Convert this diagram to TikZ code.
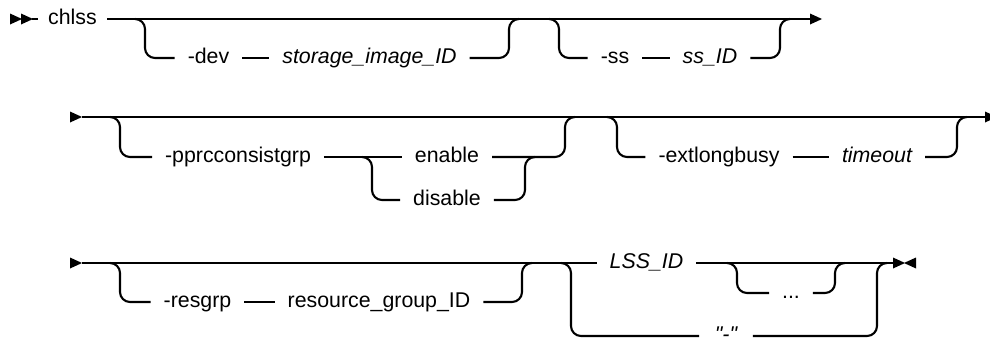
\documentclass[tikz,border=0pt]{standalone}
\usepackage{fontspec}
\setmainfont{Liberation Sans}
\newfontfamily\plainsans{Liberation Sans}[Ligatures=TeXOff]
\tikzset{
  x=0.75pt, y=-0.75pt,
  lbl/.style={font=\fontsize{16pt}{19pt}\selectfont, inner xsep=9pt, inner ysep=0pt,
              text height=12pt, text depth=4pt},
  lbli/.style={lbl, font=\fontsize{16pt}{19pt}\selectfont\itshape},
  rc/.style={rounded corners=7.5pt},
  rtri/.pic={\fill (0,-5.5) -- (12,0) -- (0,5.5) -- cycle;},
  ltri/.pic={\fill (0,-5.5) -- (-12,0) -- (0,5.5) -- cycle;},
}
\begin{document}
\begin{tikzpicture}[line width=1.6pt]
\useasboundingbox (0,0) rectangle (990,339);

% ---------- Row 1 ----------
\node[lbl, inner xsep=7pt] (chlss) at (72.5,19) {chlss};
\node[lbl]  (dev)  at (208.5,58) {-dev};
\node[lbli] (stor) at (369.5,58) {storage\_image\_ID};
\node[lbl]  (ss)   at (615,58)   {-ss};
\node[lbli] (ssid) at (710,58)   {ss\_ID};

\pic at (10,19) {rtri};
\pic at (21,19) {rtri};
\coordinate (a1) at (32,19);
\coordinate (z1) at (810,19);
\draw (a1) -- (chlss.west);
\draw (chlss.east) -- (z1);
\pic at (z1) {rtri};

\coordinate (b1) at (135,19);
\coordinate (c1) at (509,19);
\draw[rc] (b1) -- ++(10,0) |- (dev.west);
\draw (dev.east) -- (stor.west);
\draw[rc] (stor.east) -| (c1) -- ++(10,0);

\coordinate (b2) at (549,19);
\coordinate (c2) at (780,19);
\draw[rc] (b2) -- ++(10,0) |- (ss.west);
\draw (ss.east) -- (ssid.west);
\draw[rc] (ssid.east) -| (c2) -- ++(10,0);

% ---------- Row 2 ----------
\node[lbl]  (ppr) at (238,157) {-pprcconsistgrp};
\node[lbl]  (en)  at (447,157) {enable};
\node[lbl]  (dis) at (447,200) {disable};
\node[lbl]  (ext) at (719,157) {-extlongbusy};
\node[lbli] (tmo) at (877,157) {timeout};

\pic at (70,117) {rtri};
\coordinate (a2) at (82,117);
\coordinate (z2) at (985,117);
\draw (a2) -- (z2);
\pic at (z2) {rtri};

\coordinate (b3) at (110,117);
\draw[rc] (b3) -- ++(10,0) |- (ppr.west);
\draw (ppr.east) -- (en.west);
\coordinate (sp) at (362,157);
\draw[rc] (sp) -- ++(10,0) |- (dis.west);
\coordinate (jn) at (525,157);
\draw[rc] (dis.east) -| (jn) -- ++(10,0);
\coordinate (c3) at (565,117);
\draw[rc] (en.east) -| (c3) -- ++(10,0);

\coordinate (b4) at (607,117);
\coordinate (c4) at (957,117);
\draw[rc] (b4) -- ++(10,0) |- (ext.west);
\draw (ext.east) -- (tmo.west);
\draw[rc] (tmo.east) -| (c4) -- ++(10,0);

% ---------- Row 3 ----------
\node[lbl]  (rgp)  at (197.5,302) {-resgrp};
\node[lbl]  (rgid) at (379,302)   {resource\_group\_ID};
\node[lbli] (lss)  at (646.5,263) {LSS\_ID};
\node[lbl]  (dots) at (791,293)   {...};
\node[lbli, inner xsep=11pt, font=\fontsize{16pt}{19pt}\selectfont\plainsans\itshape] (dq) at (726,336) {"-"};

\pic at (70,263) {rtri};
\coordinate (a3) at (82,263);
\coordinate (z3) at (893,263);
\draw (a3) -- (lss.west);
\draw (lss.east) -- (z3);
\pic at (z3) {rtri};
\pic at (916,263) {ltri};

\coordinate (b5) at (110,263);
\coordinate (c5) at (522,263);
\draw[rc] (b5) -- ++(10,0) |- (rgp.west);
\draw (rgp.east) -- (rgid.west);
\draw[rc] (rgid.east) -| (c5) -- ++(10,0);

\coordinate (b6) at (561,263);
\coordinate (c6) at (877,263);
\draw[rc] (b6) -- ++(10,0) |- (dq.west);
\draw[rc] (dq.east) -| (c6) -- ++(10,0);

\coordinate (b7) at (727,263);
\coordinate (c7) at (835,263);
\draw[rc] (b7) -- ++(10,0) |- (dots.west);
\draw[rc] (dots.east) -| (c7) -- ++(10,0);
\end{tikzpicture}
\end{document}
